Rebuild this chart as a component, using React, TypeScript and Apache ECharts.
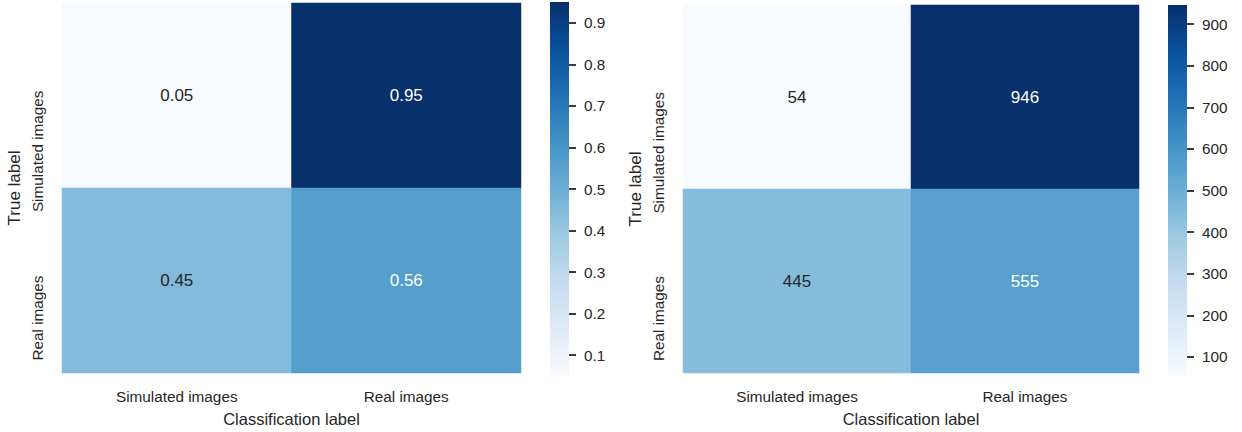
import React, { useEffect, useRef } from "react";
import * as echarts from "echarts";

const classLabels = ["Simulated images", "Real images"];
const rowLabels = ["Simulated images", "Real images"];
const normalizedValues = [
  [0.05, 0.95],
  [0.45, 0.56],
];
const countValues = [
  [54, 946],
  [445, 555],
];
const normalizedRange = [0.05, 0.95];
const countRange = [54, 946];
const normalizedTicks = [0.1, 0.2, 0.3, 0.4, 0.5, 0.6, 0.7, 0.8, 0.9];
const countTicks = [100, 200, 300, 400, 500, 600, 700, 800, 900];
const blues = ["#f7fbff", "#deebf7", "#c6dbef", "#9ecae1", "#6baed6", "#4292c6", "#2171b5", "#08519c", "#08306b"];

const FONT = "Liberation Sans, Arial, sans-serif";
const TXT = "#262626";

function cells(values: number[][], range: number[], fmt: (v: number) => string) {
  const out: any[] = [];
  values.forEach((row, r) => {
    row.forEach((v, c) => {
      const t = (v - range[0]) / (range[1] - range[0]);
      out.push({
        value: [c, r, v],
        label: { color: t > 0.5 ? "#ffffff" : TXT, formatter: fmt(v) },
      });
    });
  });
  return out;
}

function gradient() {
  return {
    type: "linear",
    x: 0,
    y: 1,
    x2: 0,
    y2: 0,
    colorStops: blues.map((c, i) => ({ offset: i / (blues.length - 1), color: c })),
  };
}

export default function App() {
  const ref = useRef<HTMLDivElement>(null);
  useEffect(() => {
    if (!ref.current) return;
    const chart = echarts.init(ref.current, undefined, { renderer: "svg" });
    const catX = (gridIndex: number) => ({
      type: "category",
      gridIndex,
      data: classLabels,
      position: "bottom",
      axisLine: { show: false },
      axisTick: { show: false },
      splitLine: { show: false },
      axisLabel: { fontSize: 15.3, color: TXT, fontFamily: FONT, margin: 16 },
      name: "Classification label",
      nameLocation: "middle",
      nameGap: 37,
      nameTextStyle: { fontSize: 16.5, color: TXT, fontFamily: FONT },
    });
    const catY = (gridIndex: number) => ({
      type: "category",
      gridIndex,
      data: rowLabels,
      inverse: true,
      axisLine: { show: false },
      axisTick: { show: false },
      splitLine: { show: false },
      axisLabel: {
        fontSize: 15.3,
        color: TXT,
        fontFamily: FONT,
        rotate: 90,
        align: "right",
        verticalAlign: "middle",
        padding: [0, -5, 0, 0],
        margin: 25,
      },
      name: "True label",
      nameLocation: "middle",
      nameGap: 39,
      nameTextStyle: { fontSize: 17, color: TXT, fontFamily: FONT },
    });
    const cbX = (gridIndex: number) => ({
      type: "value",
      gridIndex,
      show: false,
      min: 0,
      max: 1,
      axisLine: { onZero: false },
    });
    const cbY = (gridIndex: number, range: number[], ticks: number[], fmt: (v: number) => string) => ({
      type: "value",
      gridIndex,
      position: "right",
      min: range[0],
      max: range[1],
      axisLine: { show: false, onZero: false },
      splitLine: { show: false },
      axisTick: { show: true, inside: false, customValues: ticks, length: 7, lineStyle: { color: TXT, width: 1.8 } },
      axisLabel: { customValues: ticks, fontSize: 15.3, color: TXT, fontFamily: FONT, margin: 15, formatter: (v: number) => fmt(v) },
    });
    const fmt2 = (v: number) => v.toFixed(2);
    const fmt0 = (v: number) => String(Math.round(v));
    const fmt1 = (v: number) => v.toFixed(1);
    chart.setOption({
      animation: false,
      backgroundColor: "#ffffff",
      textStyle: { fontFamily: FONT },
      grid: [
        { left: 62, top: 3, width: 459, height: 374 },
        { left: 550, top: 2, width: 19, height: 374, show: true, borderWidth: 0, backgroundColor: gradient() },
        { left: 683, top: 5, width: 456, height: 372 },
        { left: 1168, top: 5, width: 19, height: 371, show: true, borderWidth: 0, backgroundColor: gradient() },
      ],
      xAxis: [catX(0), cbX(1), catX(2), cbX(3)],
      yAxis: [
        catY(0),
        cbY(1, normalizedRange, normalizedTicks, fmt1),
        catY(2),
        cbY(3, countRange, countTicks, fmt0),
      ],
      visualMap: [
        { type: "continuous", show: false, seriesIndex: 0, dimension: 2, min: normalizedRange[0], max: normalizedRange[1], inRange: { color: blues } },
        { type: "continuous", show: false, seriesIndex: 1, dimension: 2, min: countRange[0], max: countRange[1], inRange: { color: blues } },
      ],
      series: [
        {
          type: "heatmap",
          xAxisIndex: 0,
          yAxisIndex: 0,
          data: cells(normalizedValues, normalizedRange, fmt2),
          label: { show: true, fontSize: 17, fontFamily: FONT },
          itemStyle: { borderWidth: 0 },
          emphasis: { disabled: true },
        },
        {
          type: "heatmap",
          xAxisIndex: 2,
          yAxisIndex: 2,
          data: cells(countValues, countRange, fmt0),
          label: { show: true, fontSize: 17, fontFamily: FONT },
          itemStyle: { borderWidth: 0 },
          emphasis: { disabled: true },
        },
      ],
    });
    return () => chart.dispose();
  }, []);
  return <div ref={ref} style={{ position: "absolute", left: 0, top: 0, width: 1242, height: 432 }} />;
}
